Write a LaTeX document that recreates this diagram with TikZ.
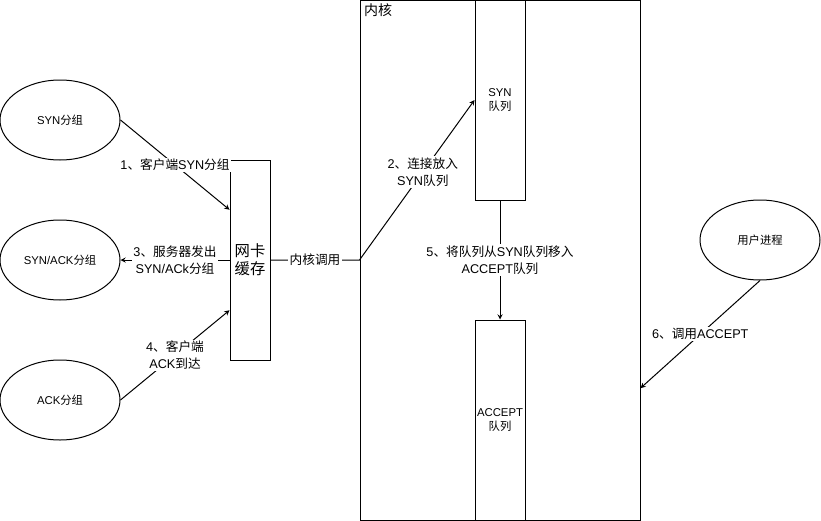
\documentclass[tikz,border=0pt]{standalone}
\usepackage{fontspec}
\setmainfont{Liberation Sans}
\newfontfamily\zh{Noto Sans CJK SC}
\usepackage{tikz}
\usetikzlibrary{positioning}
\usetikzlibrary{shapes.geometric}
\usetikzlibrary{arrows}
\usetikzlibrary{calc}
\tikzset{pkt/.style={draw, ellipse, minimum width=90pt, minimum height=60pt, inner sep=0pt, font=\fontsize{8.5}{10}\selectfont}}
\tikzset{queue/.style={draw, rectangle, minimum width=37.5pt, minimum height=150pt, inner sep=0pt, align=center, font=\fontsize{8.5}{10.5}\selectfont}}
\tikzset{lbl/.style={fill=white, inner sep=1pt, align=center, font=\fontsize{9.5}{12.5}\selectfont}}

\begin{document}
\begin{tikzpicture}[x=0.75pt, y=-0.75pt, line width=0.75pt]
\useasboundingbox (0,0) rectangle (821,521);
% packets on the left
\node[pkt] (syn) at (60,120) {SYN{\zh 分组}};
\node[pkt] (synack) at (60,260) {SYN/ACK{\zh 分组}};
\node[pkt] (ack) at (60,400) {ACK{\zh 分组}};
\node[draw, minimum width=30pt, minimum height=150pt, align=center, font=\zh\fontsize{11.5}{13.5}\selectfont] (buf) at (250,260) {网卡\\缓存};
% kernel
\node[draw, minimum width=210pt, minimum height=390pt] (kern) at (500,260) {};
\node[anchor=north west, inner sep=3pt, font=\zh\fontsize{10.5}{12}\selectfont] (kernlbl) at (kern.north west) {内核};
\node[queue] (synq) at (500,100) {SYN\\{\zh 队列}};
\node[queue] (accq) at (500,420) {ACCEPT\\{\zh 队列}};
\node[pkt, font=\zh\fontsize{8.5}{10}\selectfont] (user) at (760,240) {用户进程};
% connectors
\draw[-stealth] (syn.east) -- node[lbl] {1{\zh 、客户端}SYN{\zh 分组}} ($(buf.north west)!.25!(buf.south west)$);
\draw[-stealth] (buf.west) -- node[lbl] {3{\zh 、服务器发出}\\SYN/ACk{\zh 分组}} (synack.east);
\draw[-stealth] (ack.east) -- node[lbl] {4{\zh 、客户端}\\ACK{\zh 到达}} ($(buf.north west)!.75!(buf.south west)$);
\draw[-stealth] (buf.east) -- node[lbl, font=\zh\fontsize{9.5}{12.5}\selectfont] {内核调用} (kern.west) -- node[lbl, pos=0.55] {2{\zh 、连接放入}\\SYN{\zh 队列}} (synq.west);
\draw[-stealth] (synq.south) -- node[lbl] {5{\zh 、将队列从}SYN{\zh 队列移入}\\ACCEPT{\zh 队列}} (accq.north);
\draw[-stealth] (user.south) -- node[lbl] {6{\zh 、调用}ACCEPT} ($(kern.north east)!.746!(kern.south east)$);
\end{tikzpicture}
\end{document}
